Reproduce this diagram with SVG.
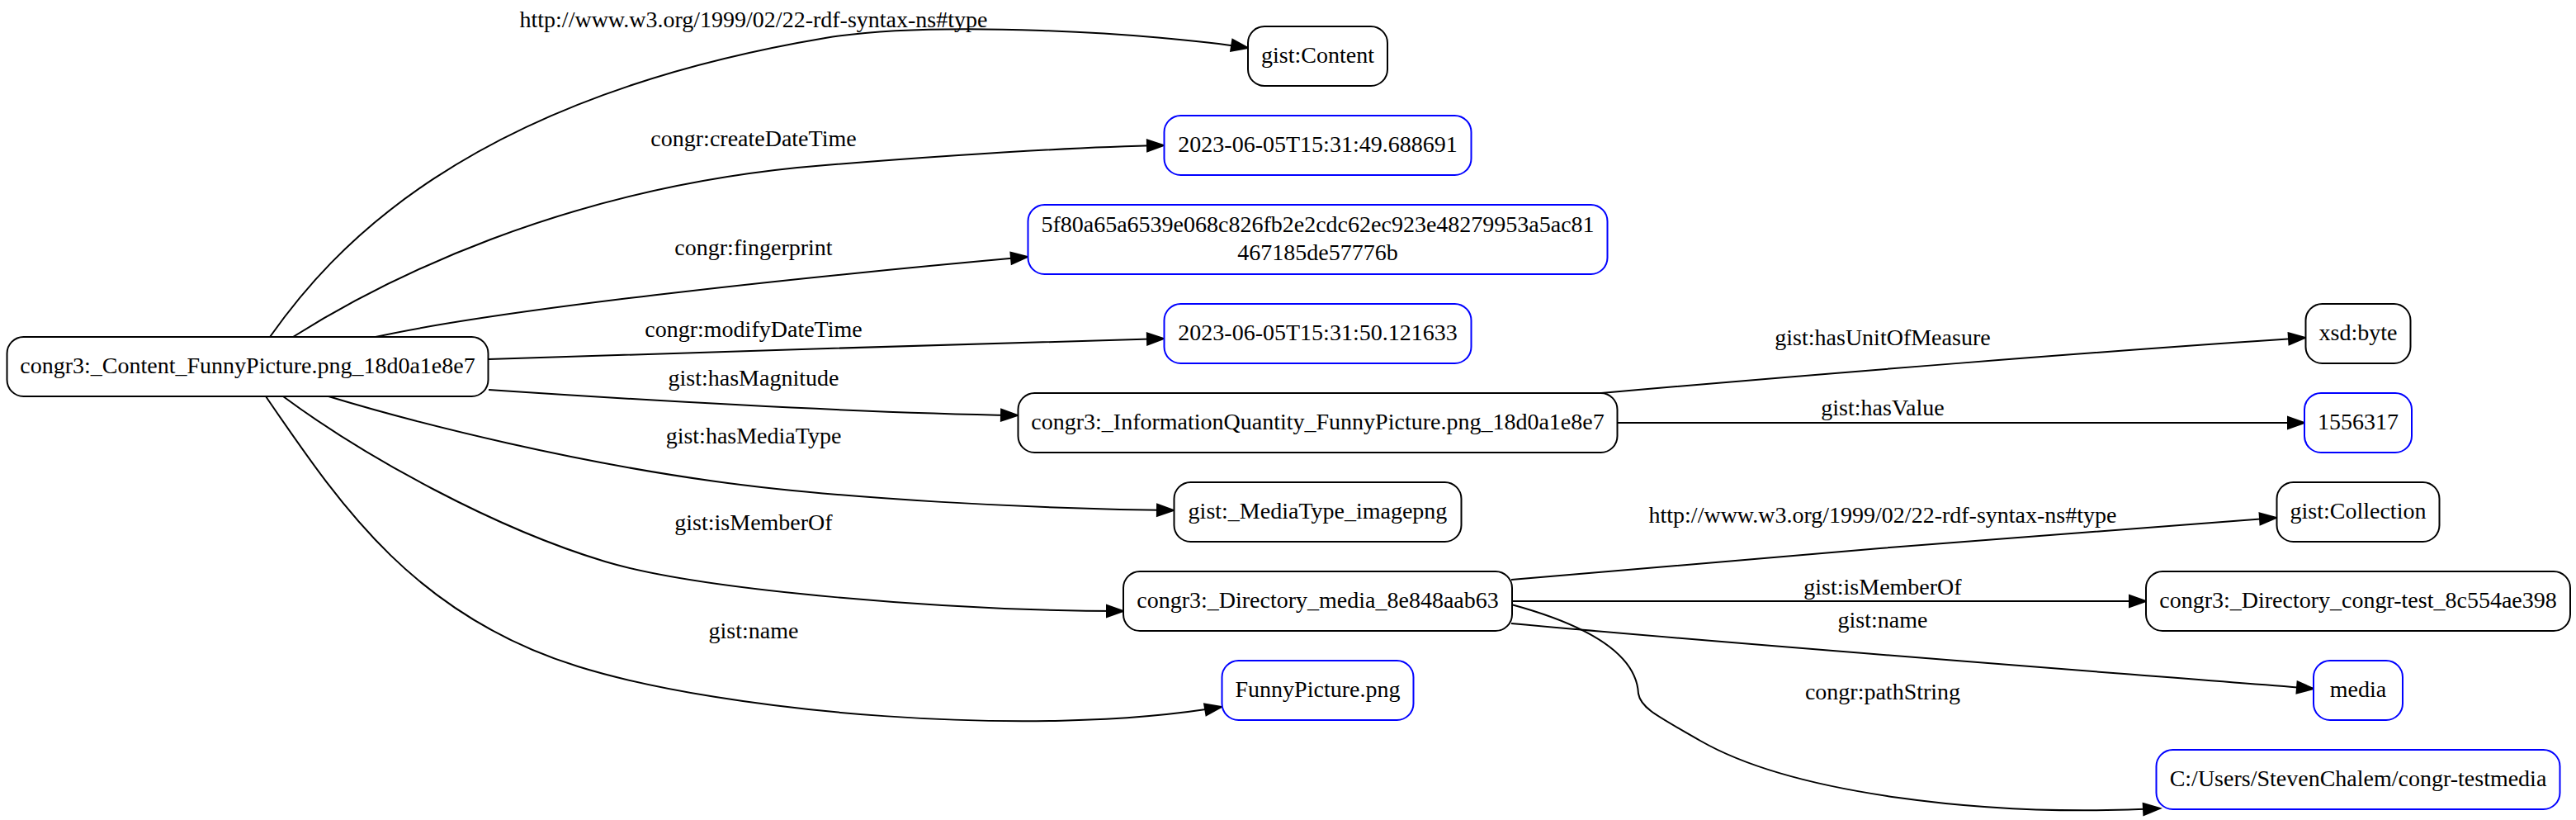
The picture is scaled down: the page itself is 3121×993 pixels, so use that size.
<svg xmlns="http://www.w3.org/2000/svg" width="3121" height="993" viewBox="0 0 3121 993">
<defs>
<style>
text{font-family:"Liberation Serif","Times New Roman",serif;font-size:28px;fill:#000;text-anchor:middle}
.node rect{fill:#fff;stroke:#000;stroke-width:2}
.node.lit rect{stroke:#0000ff}
#edges path{fill:none;stroke:#000;stroke-width:2;marker-end:url(#arr)}
</style>
<marker id="arr" markerUnits="userSpaceOnUse" markerWidth="24" markerHeight="18" viewBox="-2 -2 24 18" refX="20" refY="7" orient="auto" overflow="visible">
<path d="M0,0 L20,7 L0,14 Z" fill="#000" stroke="#000" stroke-width="2"/>
</marker>
</defs>
<rect x="0" y="0" width="3121" height="993" fill="#fff"/>
<g id="edges">
<path d="M327,408 C400,305 560,120 1000,46 C1130,24 1400,40 1512,58"/>
<path d="M355,408 C455,345 680,225 1000,200 C1150,188 1300,178 1410,176"/>
<path d="M455,408 C605,375 945,338 1245,311"/>
<path d="M592,435 C850,428 1150,416 1410,410"/>
<path d="M592,472 C800,486 1050,500 1233,503"/>
<path d="M398,480 C520,517 700,560 867,583 C1017,604 1250,616 1422,618"/>
<path d="M343,480 C443,554 600,640 733,680 C850,715 1150,740 1361,740"/>
<path d="M322,480 C410,608 500,745 700,807 C880,863 1250,895 1480,856"/>
<path d="M1940,476 C2200,453 2550,425 2793,409"/>
<path d="M1959,512 L2792,512"/>
<path d="M1831,702 C2100,678 2500,645 2758,627"/>
<path d="M1831,728 L2600,728"/>
<path d="M1831,755 C2100,780 2500,810 2803,834"/>
<path d="M1831,732 C1890,748 1982,780 1985,840 C1988,858 2010,868 2060,897 C2170,960 2400,990 2617,979"/>
<text x="913" y="33">http://www.w3.org/1999/02/22-rdf-syntax-ns#type</text>
<text x="913" y="177">congr:createDateTime</text>
<text x="913" y="309">congr:fingerprint</text>
<text x="913" y="408">congr:modifyDateTime</text>
<text x="913" y="467">gist:hasMagnitude</text>
<text x="913" y="537">gist:hasMediaType</text>
<text x="913" y="642">gist:isMemberOf</text>
<text x="913" y="773">gist:name</text>
<text x="2281" y="418">gist:hasUnitOfMeasure</text>
<text x="2281" y="503">gist:hasValue</text>
<text x="2281" y="633">http://www.w3.org/1999/02/22-rdf-syntax-ns#type</text>
<text x="2281" y="720">gist:isMemberOf</text>
<text x="2281" y="760">gist:name</text>
<text x="2281" y="847">congr:pathString</text>
</g>
<g id="n_content" class="node"><rect x="8.5" y="408" width="583" height="72" rx="20"/><text x="300" y="452">congr3:_Content_FunnyPicture.png_18d0a1e8e7</text></g>
<g id="n_gistContent" class="node"><rect x="1512" y="32" width="169" height="72" rx="20"/><text x="1596.5" y="76">gist:Content</text></g>
<g id="n_create" class="node lit"><rect x="1410.5" y="140" width="372" height="72" rx="20"/><text x="1596.5" y="184">2023-06-05T15:31:49.688691</text></g>
<g id="n_finger" class="node lit"><rect x="1245.5" y="248" width="702" height="84" rx="20"/><text x="1596.5" y="281">5f80a65a6539e068c826fb2e2cdc62ec923e48279953a5ac81</text><text x="1596.5" y="315">467185de57776b</text></g>
<g id="n_modify" class="node lit"><rect x="1410.5" y="368" width="372" height="72" rx="20"/><text x="1596.5" y="412">2023-06-05T15:31:50.121633</text></g>
<g id="n_iq" class="node"><rect x="1233.5" y="476" width="726" height="72" rx="20"/><text x="1596.5" y="520">congr3:_InformationQuantity_FunnyPicture.png_18d0a1e8e7</text></g>
<g id="n_mediatype" class="node"><rect x="1422.5" y="584" width="348" height="72" rx="20"/><text x="1596.5" y="628">gist:_MediaType_imagepng</text></g>
<g id="n_dirmedia" class="node"><rect x="1361" y="692" width="471" height="72" rx="20"/><text x="1596.5" y="736">congr3:_Directory_media_8e848aab63</text></g>
<g id="n_funny" class="node lit"><rect x="1480.5" y="800" width="232" height="72" rx="20"/><text x="1596.5" y="844">FunnyPicture.png</text></g>
<g id="n_byte" class="node"><rect x="2793.5" y="368" width="127" height="72" rx="20"/><text x="2857" y="412">xsd:byte</text></g>
<g id="n_value" class="node lit"><rect x="2792" y="476" width="130" height="72" rx="20"/><text x="2857" y="520">1556317</text></g>
<g id="n_collection" class="node"><rect x="2758.5" y="584" width="197" height="72" rx="20"/><text x="2857" y="628">gist:Collection</text></g>
<g id="n_dirtest" class="node"><rect x="2600" y="692" width="514" height="72" rx="20"/><text x="2857" y="736">congr3:_Directory_congr-test_8c554ae398</text></g>
<g id="n_media" class="node lit"><rect x="2803" y="800" width="108" height="72" rx="20"/><text x="2857" y="844">media</text></g>
<g id="n_path" class="node lit"><rect x="2612.5" y="908" width="489" height="72" rx="20"/><text x="2857" y="952">C:/Users/StevenChalem/congr-testmedia</text></g>
</svg>
